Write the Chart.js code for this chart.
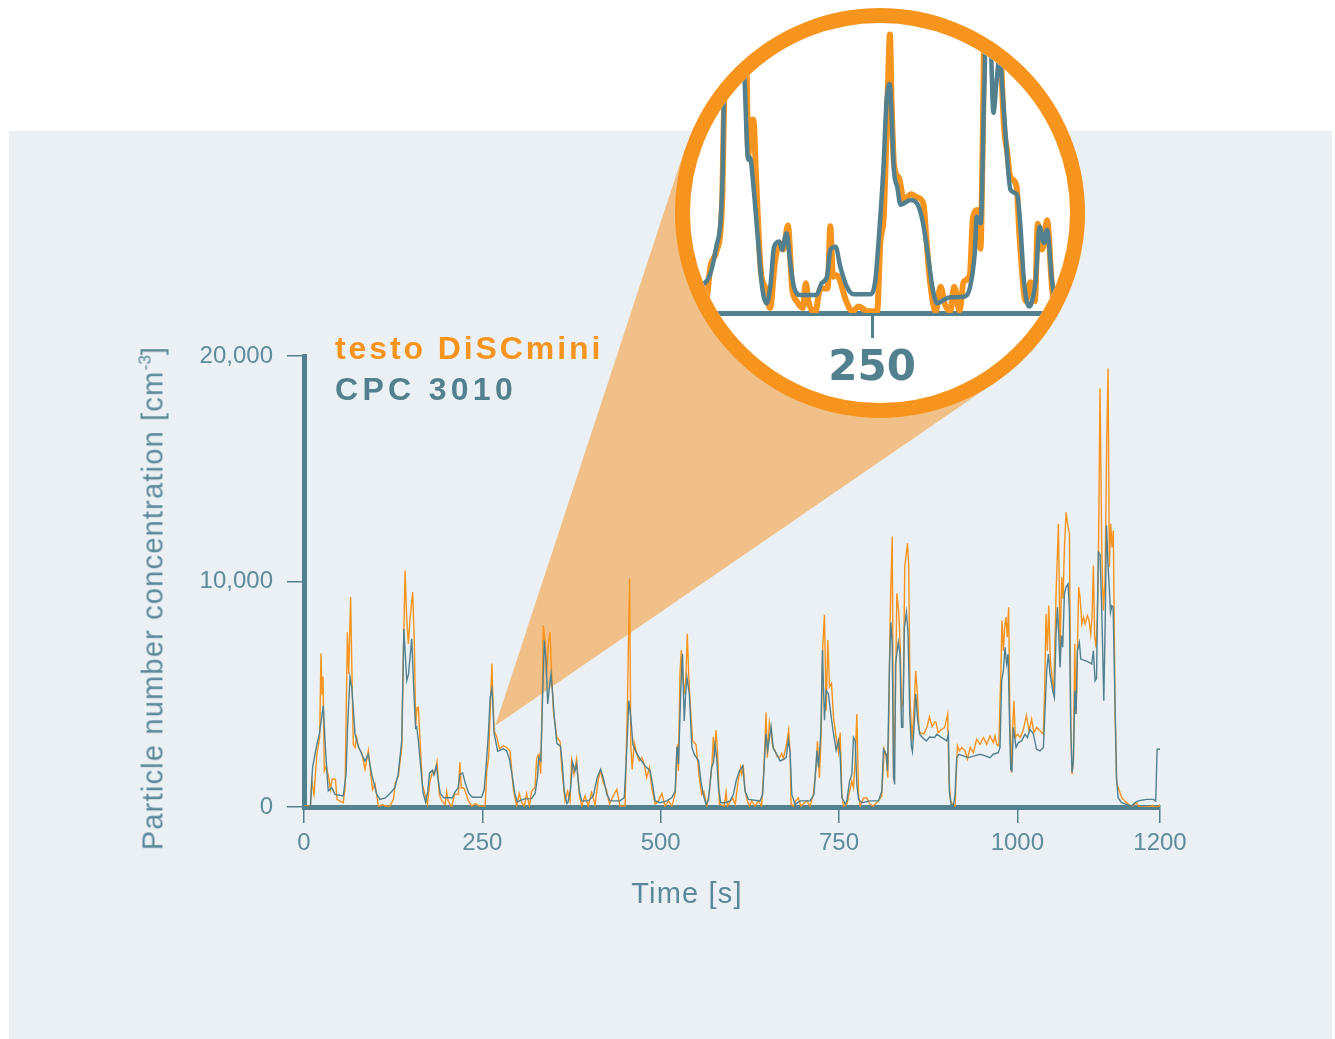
<!DOCTYPE html>
<html>
<head>
<meta charset="utf-8">
<script src="https://cdn.jsdelivr.net/npm/chart.js@4.4.1/dist/chart.umd.min.js"></script>
<style>
  body { margin: 0; background: #fff; }
  #wrap { position: relative; width: 1335px; height: 1039px; overflow: hidden; font-family: "Liberation Sans", Arial, sans-serif; }
  #panel { position: absolute; left: 9px; top: 131px; width: 1323px; height: 908px; background: #ebf0f4; }
  #main { position: absolute; left: 0; top: 0; }
  .legend { position: absolute; left: 335px; font-weight: bold; font-size: 32px; line-height: 32px; white-space: nowrap; }
  .title { position: absolute; color: #5b899a; font-size: 29px; line-height: 29px; letter-spacing: 1.2px; white-space: nowrap; }
  .title sup { font-size: 0.6em; line-height: 0; vertical-align: 0.7em; letter-spacing: 0; }
  #lens { position: absolute; left: 674.5px; top: 8px; width: 410px; height: 410px; box-sizing: border-box;
          border: 15px solid #f7941d; border-radius: 50%; background: #fff; overflow: hidden; }
  #zoom { position: absolute; left: 0; top: 0; }
</style>
</head>
<body>
<div id="wrap">
  <div id="panel"></div>
  <canvas id="main" width="1335" height="1039"></canvas>
  <div class="legend" style="top:332px;color:#f7941d;letter-spacing:2.9px">testo DiSCmini</div>
  <div class="legend" style="top:373px;color:#52808f;letter-spacing:4.3px">CPC 3010</div>
  <div class="title" style="left:153px;top:598px;transform:translate(-50%,-50%) rotate(-90deg)">Particle number concentration [cm<sup>-3</sup>]</div>
  <div class="title" style="left:687px;top:879px;transform:translateX(-50%)">Time [s]</div>
  <div id="lens"><canvas id="zoom" width="380" height="380"></canvas></div>
</div>
<script>
// time [s], particle number concentration [cm-3]
const discmini = [
  [0,50],[5,50],[9,0],[10.8,1160],[14,560],[18,2340],[22,3080],[23.8,6810],[25.2,4970],[26.6,5780],
  [28.5,1600],[31.3,1830],[34.6,1300],[37,780],[39.3,1230],[44,1230],[46.3,340],[50,270],[55,190],[57.6,860],
  [60.8,7750],[62.7,5900],[65.4,9310],[67.2,5900],[69.1,2780],[71.5,2640],[73.8,3080],[76.2,2640],[80.8,2420],[85.5,1680],
  [90.2,2490],[92.5,1750],[96.2,780],[99.6,1010],[104.3,40],[110,100],[115,40],[120.6,40],[125.3,340],[128,1060],
  [132.3,1380],[137,2640],[139.3,6660],[141.7,10490],[143.9,8410],[146.3,7230],[148.7,8340],[152.4,9530],[154.7,7230],[156.6,3600],
  [158.5,4400],[160.4,4420],[162.7,2930],[166,980],[169.7,560],[173,115],[176.7,1160],[180.4,1600],[183,1450],[186.5,2000],
  [189.7,560],[193.1,270],[197.8,115],[200,680],[202,270],[207,0],[211,560],[216.5,560],[218.5,1980],[220.5,830],
  [222.6,860],[225,800],[230.5,270],[235.2,40],[240,150],[246.6,40],[253.9,40],[256.2,1600],[258.8,2190],[261.8,5000],
  [263.5,6360],[264.7,4880],[266.6,3380],[270.4,3080],[274,2580],[279.5,2710],[284,2640],[288.8,2490],[291,1700],[293.5,790],
  [298.1,40],[301.7,600],[305,200],[309,40],[312,600],[316,50],[319.1,710],[323.8,860],[326.2,2190],[329.5,2350],
  [331.8,1470],[333.7,4290],[335.5,8060],[337.9,7380],[340.2,5930],[342.5,7230],[344.8,7750],[347.2,5930],[349.5,4290],[351.9,3700],
  [354.3,3110],[359,2900],[361.3,1750],[366,270],[369.6,700],[372.9,270],[375.1,2040],[378.4,1450],[382.1,2120],[385.9,560],
  [389.2,40],[394,500],[398.5,40],[403.1,640],[408,100],[412.5,1230],[415.8,1600],[419.5,1080],[424,790],[428.2,120],
  [433.5,500],[438.5,790],[443,40],[450.1,40],[453.5,4720],[456.4,10120],[458.2,2640],[460.1,1670],[462.9,2860],[466.6,2340],
  [470,2050],[473.6,2190],[477,1900],[480.4,1300],[484.2,1750],[487.5,860],[492.3,120],[497,270],[501.7,600],[506,40],
  [511,270],[515.7,40],[520.4,600],[523.5,2780],[524.9,1600],[527.1,5930],[529,6960],[530.6,5930],[533,5000],[535.4,5780],
  [537.3,7680],[539.2,5930],[541.1,4720],[544.8,2930],[549.5,2780],[551.5,2190],[553.6,1450],[557.4,560],[560.5,700],[564.5,40],
  [568,600],[571.9,1900],[573.8,3110],[575.5,2200],[577.6,3410],[579.8,2400],[582.4,120],[589,40],[591.7,640],[593.5,40],
  [598,270],[601,400],[604.5,120],[608.9,1230],[612.2,1750],[613.6,1450],[616,1750],[618.3,710],[621.6,270],[624.5,40],
  [627.7,270],[632.4,40],[637,270],[641.5,40],[644.9,1750],[647.7,4200],[649.6,2190],[652.4,3750],[654.8,3260],[657.1,2670],
  [660.4,2500],[662.7,2260],[666.5,2190],[669.7,2370],[672,2150],[675.7,2670],[679.5,3410],[681.5,2340],[682.9,120],[686,40],
  [689.5,270],[693.1,400],[696.5,40],[705,270],[709.5,40],[714,560],[717.9,1750],[719.8,2930],[722.6,1300],[725,3260],
  [727.2,7110],[729.6,8520],[732,4270],[734.3,7410],[736.7,5330],[739.5,5480],[742.3,3970],[746,3080],[749.3,2420],[751.6,3300],
  [754,560],[756.3,40],[761,120],[764.5,640],[768,1150],[770.3,860],[772.7,2040],[775,4120],[777.4,560],[779.7,40],
  [784.3,400],[788.9,400],[793.5,120],[798,40],[805.4,270],[810,500],[813.3,2560],[816.2,2200],[818.5,1300],[821.9,8740],
  [824.6,12000],[826.5,1230],[828.8,4120],[831.1,9480],[833.5,8740],[834.7,8000],[835.8,7110],[837.7,4420],[840,4700],[842.2,10660],
  [846,11700],[847.8,10660],[849.6,4720],[852.4,2930],[854.7,4120],[857.6,6040],[859.9,5000],[862.2,3410],[864.6,3260],[869.3,3260],
  [873.5,3560],[876.8,4000],[880.6,3560],[884.3,3780],[886,3750],[889,3300],[894,3450],[898,3520],[902.4,4120],[904.2,1150],
  [906.6,270],[909.5,100],[912.7,0],[914.1,1300],[916,2710],[918.8,2490],[922.1,2640],[926.8,2490],[930,2120],[933.8,2640],
  [938.4,2420],[943,3010],[947.7,2780],[952.4,3080],[957,2780],[961.7,3150],[966.3,2860],[968.7,3150],[971,2780],[974,2710],
  [976.6,5600],[978.5,8270],[980.4,6930],[982.2,7970],[984.1,8420],[986,7530],[987.8,8860],[989.7,3530],[991.6,1530],[993.4,3530],
  [995.3,4710],[997.2,3080],[1000,3230],[1004,3080],[1008,3380],[1012.7,4050],[1016.4,3380],[1020,3900],[1023.2,3300],[1027.1,3530],
  [1031.8,3380],[1036.5,3230],[1038.3,5160],[1040.2,8570],[1042.1,6930],[1044,8930],[1046.3,6490],[1048.7,5750],[1051,5010],[1054.3,9450],
  [1057.6,12560],[1059.9,6930],[1062.2,10200],[1064.1,9230],[1066,11510],[1068.3,13070],[1071.1,12410],[1073,12120],[1074.9,3530],[1076.7,1450],
  [1078.6,2040],[1080.5,7230],[1082.4,4120],[1084.2,6930],[1086,9750],[1087.9,9300],[1090.4,8120],[1092.8,8420],[1095,8120],[1098.2,8490],
  [1100.5,8270],[1102.9,7670],[1104.7,8420],[1106.6,10710],[1108.4,7530],[1110.3,7080],[1112.1,8420],[1113.6,10930],[1115.9,18560],[1118.3,11510],
  [1120.6,8720],[1122.9,10060],[1125.3,16140],[1127.2,19450],[1129,10640],[1130.9,12560],[1132.8,11510],[1134.6,12270],[1137,4270],[1139.4,1010],
  [1143.1,710],[1146.4,415],[1150.5,270],[1155.7,120],[1161,40],[1166.8,190],[1171.4,0],[1180,0],[1190,40],[1198,0],[1200,120]
];
const cpc3010 = [
  [0,0],[9,0],[12,1750],[18,2780],[21.5,3230],[27,4490],[29.5,2930],[32,1600],[34,710],[39,860],
  [43.5,560],[55,490],[59,1450],[61,3520],[64.5,5750],[67,5300],[71.5,3230],[76,2710],[81,2340],[85.5,2040],
  [90,2340],[95,1450],[102,560],[106.5,340],[114,400],[120.5,600],[127.5,860],[132,1450],[137,2930],[140,7900],
  [144,5600],[146.5,5900],[151,7460],[154,5160],[156.5,3500],[158,3550],[160,3050],[163.5,1820],[167,600],[170.5,220],
  [173.5,680],[176,1510],[180,1630],[182,1440],[185.5,1820],[188,1210],[191,600],[196,410],[208,410],[212,680],
  [216,830],[218.5,1440],[222.5,1510],[226,1060],[231,600],[236,430],[249,430],[252.5,750],[255,1670],[258.5,3260],
  [261,4860],[263.3,5230],[264.5,4710],[266.5,3260],[269,2880],[271.5,2470],[279,2580],[284,2500],[288,2120],[292,1360],
  [295.5,600],[299,220],[304,300],[309,360],[319,370],[324,600],[327.5,1360],[329,2200],[332,2050],[334.6,5010],
  [336.9,7380],[339.3,6490],[341.6,4570],[344,5300],[346.3,5900],[348.6,5010],[351,3970],[354.5,2810],[359.5,2700],[362,1970],
  [364.6,750],[368.5,150],[370,200],[373.5,750],[376.5,1970],[379.8,1600],[382.1,1900],[385.9,710],[389.2,270],[398.5,270],
  [405.5,490],[411,1300],[415.8,1670],[419.5,1300],[424.5,560],[429,270],[443,270],[449,415],[452.6,2640],[455.4,4720],
  [458.2,3970],[461,2780],[465.7,2420],[471.3,2120],[478.3,1820],[485.3,1600],[489,930],[492.3,270],[499.4,190],[508.7,270],
  [515.7,415],[520.4,710],[522.7,2640],[524,2640],[525,1900],[528.3,5300],[530.6,6790],[533,3820],[535,5000],[536.8,5750],
  [540.1,5050],[543.8,2640],[547.1,2340],[553.2,2040],[556.4,1150],[559.7,560],[563.5,120],[567,300],[571.4,1750],[574,1970],
  [576.2,2780],[578.5,2190],[581,860],[584.2,190],[590.3,190],[597.3,270],[602,560],[605.7,1150],[610.4,1600],[615,1820],
  [618.3,710],[623,340],[639.3,270],[643,560],[645.4,2040],[647.7,3260],[650,2520],[654.8,3560],[658,2590],[662.7,2340],
  [667.4,2040],[673,2120],[676,2200],[679,3000],[681.5,2400],[683.8,560],[688.5,120],[695.5,270],[709.5,270],[715,560],
  [719,2490],[721.2,1750],[724.5,3260],[726.8,6960],[729.6,3850],[732,5160],[735.2,5010],[738.5,4120],[742.3,3260],[746,2520],
  [749.3,2960],[751.6,2340],[754,415],[758.7,120],[761,270],[764.8,1150],[768,1450],[770.3,3080],[772.7,2930],[775,1010],
  [777.4,340],[782,190],[793.7,270],[805.4,270],[810,710],[812.4,2560],[816.2,2340],[818,1600],[820.9,6490],[822.7,8190],
  [824.6,7230],[826.5,1300],[828,1000],[829.3,6340],[833.1,7310],[835.4,6790],[837.7,3530],[839.5,3530],[841.7,7970],[844.5,8640],
  [846.8,7680],[849.2,4120],[851.5,2670],[853,2450],[855.7,3820],[857.6,5010],[860.4,3820],[863.2,3230],[866.9,3080],[872.5,2930],
  [877,3100],[884,3080],[887,3230],[894,3080],[901,2930],[903.4,3230],[904.7,710],[907,120],[910.4,40],[912.7,560],
  [915,2190],[918.3,2340],[924.4,2270],[931.4,2190],[940,2270],[947.7,2340],[955,2270],[961.7,2190],[966.3,2340],[973.3,2410],
  [975.7,2640],[978,5600],[980.4,6040],[982.7,7080],[985,6340],[987,6780],[988.8,4120],[990.7,1670],[992.5,1600],[994.4,3530],
  [998.2,2640],[1001.4,2860],[1006,2930],[1010.8,3230],[1014,3080],[1017.7,3450],[1022.5,3230],[1027,2560],[1031.8,2490],[1036.5,2640],
  [1038.8,4270],[1041.2,6040],[1043.5,6780],[1045.9,5890],[1049.6,5160],[1051.9,4860],[1054.3,7670],[1056.2,8860],[1058,7670],[1059.9,6190],
  [1061.8,7600],[1063.6,7080],[1066,9450],[1068.3,9750],[1071.1,9900],[1073,8720],[1074.9,3530],[1076.7,1530],[1078.6,2040],[1080.5,5160],
  [1082.4,4120],[1084.2,6930],[1087,7300],[1088.9,6560],[1095,6490],[1101,6410],[1104.3,6340],[1106.6,6930],[1109,5600],[1111,5700],
  [1113.6,11300],[1116,11200],[1117.9,9230],[1119.4,7300],[1121.2,4710],[1123.1,8040],[1125,12490],[1126.9,10860],[1128.7,9820],[1130.6,8630],
  [1132.5,8930],[1134.3,8860],[1135.7,6560],[1137.6,3600],[1139,1300],[1141.3,415],[1146,190],[1153,120],[1160,40],[1164.7,190],
  [1169.4,270],[1181,340],[1190.4,340],[1194,270],[1196,2560],[1200,2560]
];
const timeTicks = [0, 250, 500, 750, 1000, 1200];
const concTicks = [0, 10000, 20000];
const zoomTicks = [250];

const ORANGE = '#f7941d';
const TEAL = '#52808f';
const TICK = '#5f8c9c';
const FONT = '"Liberation Sans", Arial, sans-serif';

// the cone from a point of the curve to the magnifier
const coneApex = { x: 268, y: 3600 };
const lens = { cx: 879.5, cy: 213, r: 205 };

const toPoints = arr => arr.map(p => ({ x: p[0], y: p[1] }));

const conePlugin = {
  id: 'cone',
  beforeDatasetsDraw(chart) {
    const ctx = chart.ctx;
    const px = chart.scales.x.getPixelForValue(coneApex.x);
    const py = chart.scales.y.getPixelForValue(coneApex.y);
    const dx = lens.cx - px, dy = lens.cy - py;
    const d = Math.hypot(dx, dy);
    const base = Math.atan2(dy, dx);
    const half = Math.asin(lens.r / d);
    const len = Math.sqrt(d * d - lens.r * lens.r);
    ctx.save();
    ctx.fillStyle = '#f1c088';
    ctx.beginPath();
    ctx.moveTo(px, py);
    ctx.lineTo(px + len * Math.cos(base - half), py + len * Math.sin(base - half));
    ctx.lineTo(lens.cx, lens.cy);
    ctx.lineTo(px + len * Math.cos(base + half), py + len * Math.sin(base + half));
    ctx.closePath();
    ctx.fill();
    ctx.restore();
  }
};

new Chart(document.getElementById('main'), {
  type: 'line',
  data: {
    datasets: [
      { label: 'CPC 3010', data: toPoints(cpc3010), borderColor: TEAL, borderWidth: 1.4, order: 0 },
      { label: 'testo DiSCmini', data: toPoints(discmini), borderColor: ORANGE, borderWidth: 1.4, order: 1 }
    ]
  },
  options: {
    responsive: false,
    animation: false,
    layout: { padding: { top: 356, right: 175, left: 0, bottom: 0 } },
    elements: { point: { radius: 0 }, line: { tension: 0 } },
    plugins: { legend: { display: false }, tooltip: { enabled: false } },
    scales: {
      x: {
        type: 'linear', min: 0, max: 1200,
        afterBuildTicks: s => { s.ticks = timeTicks.map(v => ({ value: v })); },
        afterFit: s => { s.height = 1039 - 807; },
        border: { width: 5, color: TEAL },
        grid: { drawOnChartArea: false, tickLength: 16, color: TEAL, lineWidth: 1.5 },
        ticks: { callback: v => String(v), color: TICK, font: { family: FONT, size: 24 }, padding: 6, maxRotation: 0, autoSkip: false }
      },
      y: {
        min: 0, max: 20000,
        afterBuildTicks: s => { s.ticks = concTicks.map(v => ({ value: v })); },
        afterFit: s => { s.width = 304; },
        border: { width: 5, color: TEAL },
        grid: { drawOnChartArea: false, tickLength: 17, color: TEAL, lineWidth: 1.5 },
        ticks: { color: TICK, font: { family: FONT, size: 24 }, padding: 14 }
      }
    }
  },
  plugins: [conePlugin]
});

// magnified view around 250 s
new Chart(document.getElementById('zoom'), {
  type: 'line',
  data: {
    datasets: [
      { data: toPoints(cpc3010), borderColor: TEAL, borderWidth: 4.5, order: 0 },
      { data: toPoints(discmini), borderColor: ORANGE, borderWidth: 6, order: 1 }
    ]
  },
  options: {
    responsive: false,
    animation: false,
    layout: { padding: 0 },
    elements: { point: { radius: 0 }, line: { cubicInterpolationMode: 'monotone' } },
    plugins: { legend: { display: false }, tooltip: { enabled: false } },
    scales: {
      x: {
        type: 'linear', min: 112.6, max: 399.4,
        afterBuildTicks: s => { s.ticks = zoomTicks.map(v => ({ value: v })); },
        afterFit: s => { s.height = 90; },
        border: { width: 5, color: TEAL },
        grid: { drawOnChartArea: false, tickLength: 25, color: TEAL, lineWidth: 3 },
        ticks: { callback: v => String(v), color: TEAL, font: { family: '"DejaVu Sans", sans-serif', size: 42, weight: 'bold' }, padding: 6 }
      },
      y: { display: false, min: 0, max: 6621 }
    }
  }
});
</script>
</body>
</html>
